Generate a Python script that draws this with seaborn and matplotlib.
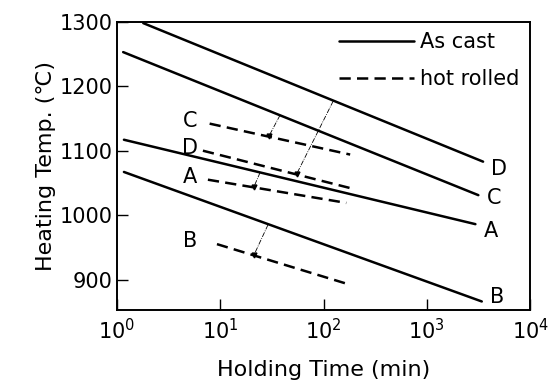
import numpy as np
import pandas as pd
import matplotlib
matplotlib.use("Agg")
import matplotlib.pyplot as plt
import seaborn as sns
from matplotlib.lines import Line2D

# --- data (time in min, temperature in degC) ---
steels = ["A", "B", "C", "D"]

cast_time_start = [1.17, 1.17, 1.15, 1.8]
cast_time_end = [2950, 3400, 3150, 3500]
cast_temp_start = [1117, 1067, 1253, 1298]
cast_temp_end = [986, 866, 1031, 1083]

rolled_time_start = [7.6, 9.3, 7.9, 6.8]
rolled_time_end = [166, 180, 181, 181]
rolled_temp_start = [1055, 955, 1142, 1100]
rolled_temp_end = [1019, 892, 1094, 1042]

# thin dash-dot connectors: (as cast point) -> (hot rolled point)
conn_time_top = [24.3, 29.0, 37.9, 124]
conn_temp_top = [1066, 985, 1155, 1177]
conn_time_bot = [21.2, 21.2, 29.7, 55]
conn_temp_bot = [1044, 938, 1123, 1064]

# label nudges (points) for the right-hand curve labels
right_label_dy = [-5, 3, -2, -5]

rows = []
for i, s in enumerate(steels):
    rows.append((s, "As cast", cast_time_start[i], cast_temp_start[i]))
    rows.append((s, "As cast", cast_time_end[i], cast_temp_end[i]))
    rows.append((s, "hot rolled", rolled_time_start[i], rolled_temp_start[i]))
    rows.append((s, "hot rolled", rolled_time_end[i], rolled_temp_end[i]))
df = pd.DataFrame(rows, columns=["steel", "state", "time", "temp"])

sns.set_style("ticks")
plt.rcParams["font.family"] = ["DejaVu Sans", "Noto Sans CJK JP"]
plt.rcParams["text.color"] = "black"
plt.rcParams["axes.labelcolor"] = "black"
plt.rcParams["xtick.color"] = "black"
plt.rcParams["ytick.color"] = "black"

DASH = (0, (4.5, 2.5))

fig = plt.figure(figsize=(5.54, 3.83), dpi=100)
ax = fig.add_axes([0.211, 0.191, 0.746, 0.752])

for (s, state), g in df.groupby(["steel", "state"]):
    ls = "-" if state == "As cast" else DASH
    sns.lineplot(data=g, x="time", y="temp", ax=ax, color="black",
                 linewidth=1.8, linestyle=ls, estimator=None, sort=False)

for i in range(len(steels)):
    ax.plot([conn_time_top[i], conn_time_bot[i]], [conn_temp_top[i], conn_temp_bot[i]],
            color="black", linewidth=0.6, linestyle=(0, (6, 1.5, 1, 1.5)))
    ax.plot(conn_time_bot[i], conn_temp_bot[i], marker="v", markersize=3.5,
            color="black")

# labels at line ends
for i, s in enumerate(steels):
    ax.annotate(s, (cast_time_end[i], cast_temp_end[i]), xytext=(6, right_label_dy[i]),
                textcoords="offset points", fontsize=15, va="center", ha="left")
    ax.annotate(s, (5.1, rolled_temp_start[i]), xytext=(0, 2),
                textcoords="offset points", fontsize=15, va="center", ha="center")

ax.set_xscale("log")
ax.set_xlim(1, 1e4)
ax.set_ylim(853, 1300)
ax.set_xticks([1, 10, 100, 1000, 10000])
ax.set_yticks([900, 1000, 1100, 1200, 1300])
ax.minorticks_off()
ax.tick_params(direction="in", length=8, width=1, labelsize=15)
ax.tick_params(axis="y", pad=3)
ax.tick_params(axis="x", pad=6)

ax.set_xlabel("Holding Time (min)", fontsize=16, labelpad=12)
ax.set_ylabel("Heating Temp. (\u2103)", fontsize=16, labelpad=3)
for sp in ax.spines.values():
    sp.set_linewidth(1.4)
    sp.set_color("black")

handles = [Line2D([], [], color="black", linewidth=1.8, linestyle="-"),
           Line2D([], [], color="black", linewidth=1.8, linestyle=DASH)]
ax.legend(handles, ["As cast", "hot rolled"], loc="upper right", frameon=False,
          fontsize=15, handlelength=3.6, handletextpad=0.3, borderaxespad=0.1,
          labelspacing=0.8)

fig.savefig("out.png", dpi=100)
